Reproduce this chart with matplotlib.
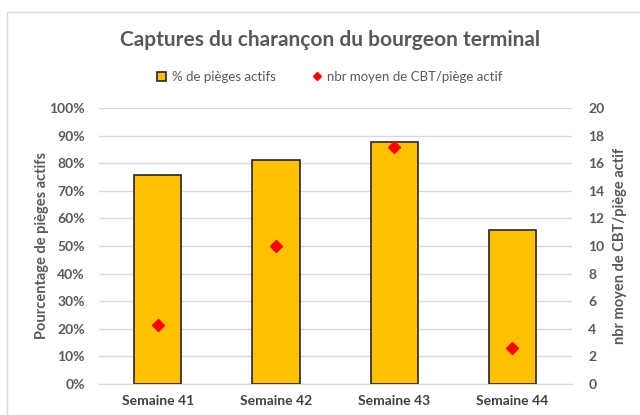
import numpy as np
import matplotlib.pyplot as plt
from matplotlib.patches import Rectangle

# data
semaines = ['Semaine 41', 'Semaine 42', 'Semaine 43', 'Semaine 44']
pct_actifs = [75.6, 81.0, 87.6, 55.6]      # % de pièges actifs
nbr_moyen = [4.3, 10.0, 17.2, 2.6]          # nbr moyen de CBT/piège actif

gris = '#595959'
plt.rcParams['font.family'] = ['Lato', 'DejaVu Sans']

fig = plt.figure(figsize=(6.4, 4.15), dpi=100)
ax = fig.add_axes([0.154, 0.0747, 0.739, 0.6653])
ax2 = ax.twinx()

# chart border like Excel
fig.patches.append(Rectangle((7 / 640, -0.1), 1.2, 1 - 12 / 415 + 0.1,
                             transform=fig.transFigure, fill=False,
                             edgecolor='#d9d9d9', linewidth=1))

x = np.arange(len(semaines))
ax.bar(x, pct_actifs, width=0.4, color='#ffc000', edgecolor='#262626',
       linewidth=1.2, label='% de pièges actifs', zorder=3)
ax2.plot(x, nbr_moyen, 'D', color='#ff0000', markersize=6.5,
         label='nbr moyen de CBT/piège actif', zorder=4)

ax.set_xlim(-0.5, 3.5)
ax.set_ylim(0, 100)
ax.set_yticks(np.arange(0, 101, 10))
ax.set_yticklabels([f'{v}%' for v in range(0, 101, 10)])
ax2.set_ylim(0, 20)
ax2.set_yticks(np.arange(0, 21, 2))

ax.grid(axis='y', color='#d9d9d9', linewidth=1, zorder=0)
ax.set_axisbelow(True)
for a in (ax, ax2):
    for s in a.spines.values():
        s.set_visible(False)
    a.tick_params(length=0, labelsize=10, labelcolor=gris)
ax.spines['bottom'].set_visible(True)
ax.spines['bottom'].set_color('#d9d9d9')

ax.set_xticks(x)
ax.set_xticklabels(semaines, fontweight='bold', color='#404040')
for lab in ax.get_yticklabels() + ax2.get_yticklabels():
    lab.set_fontweight('bold')
ax.tick_params(axis='y', pad=10)
ax2.tick_params(axis='y', pad=12)
ax.tick_params(axis='x', pad=8)

ax.set_ylabel('Pourcentage de pièges actifs', fontsize=10.5, fontweight='bold',
              color=gris, labelpad=0)
ax2.set_ylabel('nbr moyen de CBT/piège actif', fontsize=10.5, fontweight='bold',
               color=gris, labelpad=6)

fig.text(0.515, 1 - 40 / 415, 'Captures du charançon du bourgeon terminal',
         ha='center', va='center', fontsize=15, fontweight='bold', color=gris)

h1, l1 = ax.get_legend_handles_labels()
h2, l2 = ax2.get_legend_handles_labels()
fig.legend(h1 + h2, l1 + l2, loc='center', bbox_to_anchor=(0.515, 1 - 77 / 415),
           ncol=2, frameon=False, fontsize=9.5, labelcolor=gris,
           handlelength=0.7, handleheight=0.7, handletextpad=0.4,
           columnspacing=2.8, markerscale=0.7)

fig.savefig('out.png', dpi=100)
